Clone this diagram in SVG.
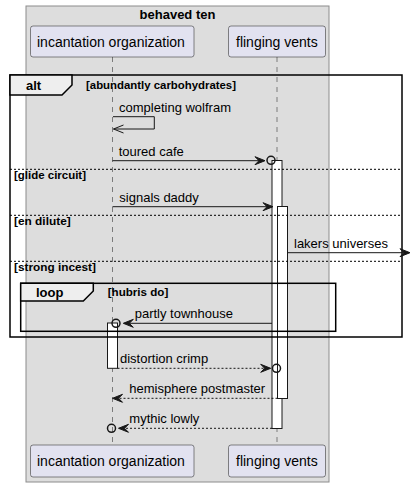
<svg xmlns="http://www.w3.org/2000/svg" width="411" height="487" viewBox="0 0 411 487">
<defs>
<style>
.box{fill:#DDDDDD;stroke:#8C8C8C;stroke-width:1}
.part{fill:#E2E2F0;stroke:#181818;stroke-width:0.5}
.ptxt{font-family:"Liberation Sans",Arial,sans-serif;font-size:14px;fill:#000}
.life{stroke:#181818;stroke-width:0.5;stroke-dasharray:5,5;fill:none}
.bar{fill:#FFFFFF;stroke:#181818;stroke-width:1}
.frame{fill:none;stroke:#000;stroke-width:1.5}
.tab{fill:#EEEEEE;stroke:#000;stroke-width:1.5}
.ftxt{font-family:"Liberation Sans",Arial,sans-serif;font-size:13px;font-weight:bold;fill:#000}
.gtxt{font-family:"Liberation Sans",Arial,sans-serif;font-size:11px;font-weight:bold;fill:#000}
.div{stroke:#000;stroke-width:1;stroke-dasharray:2,2;fill:none}
.msg{stroke:#181818;stroke-width:1;fill:none}
.dash{stroke:#181818;stroke-width:1;fill:none;stroke-dasharray:2,2}
.head{fill:#181818;stroke:#181818;stroke-width:1}
.circ{fill:none;stroke:#181818;stroke-width:1.5}
.mtxt{font-family:"Liberation Sans",Arial,sans-serif;font-size:13px;fill:#000}
</style>
</defs>
<g id="box-behaved-ten">
<rect class="box" x="26" y="6" width="303" height="476"/>
<text class="ftxt" x="177.5" y="19" text-anchor="middle">behaved ten</text>
</g>
<g id="lifelines">
<line class="life" x1="112.5" y1="57" x2="112.5" y2="445"/>
<line class="life" x1="277" y1="57" x2="277" y2="445"/>
</g>
<g id="participant-incantation-organization">
<rect class="part" x="30.5" y="26" width="163.5" height="31" rx="2.5"/>
<text class="ptxt" x="37" y="46.5">incantation organization</text>
<rect class="part" x="30.5" y="445" width="163.5" height="32" rx="2.5"/>
<text class="ptxt" x="37" y="466">incantation organization</text>
</g>
<g id="participant-flinging-vents">
<rect class="part" x="228.5" y="26" width="97" height="31" rx="2.5"/>
<text class="ptxt" x="236" y="46.5">flinging vents</text>
<rect class="part" x="228.5" y="445" width="97" height="32" rx="2.5"/>
<text class="ptxt" x="236" y="466">flinging vents</text>
</g>
<g id="activations">
<rect class="bar" x="272" y="160.5" width="10" height="268"/>
<rect class="bar" x="277.5" y="206.5" width="10" height="192"/>
<rect class="bar" x="107.5" y="323" width="10" height="45.3"/>
</g>
<g id="frame-alt">
<rect class="frame" x="10" y="75" width="392" height="262"/>
<polygon class="tab" points="10,75 72,75 72,85 62,95 10,95"/>
<text class="ftxt" x="26" y="90">alt</text>
<text class="gtxt" x="86" y="88.5" textLength="150" lengthAdjust="spacingAndGlyphs">[abundantly carbohydrates]</text>
<line class="div" x1="10" y1="169.3" x2="402" y2="169.3"/>
<text class="gtxt" x="14" y="178.8" textLength="72" lengthAdjust="spacingAndGlyphs">[glide circuit]</text>
<line class="div" x1="10" y1="215.3" x2="402" y2="215.3"/>
<text class="gtxt" x="14" y="224.8" textLength="56.7" lengthAdjust="spacingAndGlyphs">[en dilute]</text>
<line class="div" x1="10" y1="261.3" x2="402" y2="261.3"/>
<text class="gtxt" x="14" y="270.8" textLength="82" lengthAdjust="spacingAndGlyphs">[strong incest]</text>
</g>
<g id="frame-loop">
<rect class="frame" x="20.7" y="283.3" width="315" height="48"/>
<polygon class="tab" points="20.7,283.3 93.3,283.3 93.3,291 83.3,301 20.7,301"/>
<text class="ftxt" x="36" y="297">loop</text>
<text class="gtxt" x="107.7" y="296" textLength="60.6" lengthAdjust="spacingAndGlyphs">[hubris do]</text>
</g>
<g id="connectors">
<polyline class="msg" points="113,116.7 154.3,116.7 154.3,129 113.5,129"/>
<polyline class="msg" points="123.5,125 113.5,129 123.5,133"/>
<text class="mtxt" x="119" y="111.5">completing wolfram</text>

<line class="msg" x1="112.5" y1="160.7" x2="264" y2="160.7"/>
<polygon class="head" points="265,160.7 255,156.7 259,160.7 255,164.7"/>
<circle class="circ" cx="271" cy="160.3" r="4"/>
<text class="mtxt" x="118.7" y="155.5">toured cafe</text>

<line class="msg" x1="112.5" y1="206.7" x2="272" y2="206.7"/>
<polygon class="head" points="273,206.7 263,202.7 267,206.7 263,210.7"/>
<text class="mtxt" x="119.3" y="201.5">signals daddy</text>

<line class="msg" x1="287.5" y1="252.7" x2="409" y2="252.7"/>
<polygon class="head" points="410,252.7 400,248.7 404,252.7 400,256.7"/>
<text class="mtxt" x="294" y="247.5">lakers universes</text>

<line class="msg" x1="272" y1="323.3" x2="124.3" y2="323.3"/>
<polygon class="head" points="123.3,323.3 133.3,319.3 129.3,323.3 133.3,327.3"/>
<circle class="circ" cx="116" cy="323.3" r="4"/>
<text class="mtxt" x="134.7" y="318">partly townhouse</text>

<line class="dash" x1="117.5" y1="368.3" x2="269.7" y2="368.3"/>
<polygon class="head" points="270.7,368.3 260.7,364.3 264.7,368.3 260.7,372.3"/>
<circle class="circ" cx="276.5" cy="368.3" r="4"/>
<text class="mtxt" x="120" y="363">distortion crimp</text>

<line class="dash" x1="277.5" y1="398.3" x2="113.5" y2="398.3"/>
<polygon class="head" points="112.5,398.3 122.5,394.3 118.5,398.3 122.5,402.3"/>
<text class="mtxt" x="129.3" y="393">hemisphere postmaster</text>

<line class="dash" x1="272" y1="428.3" x2="119.5" y2="428.3"/>
<polygon class="head" points="118.5,428.3 128.5,424.3 124.5,428.3 128.5,432.3"/>
<circle class="circ" cx="111.5" cy="428.3" r="4"/>
<text class="mtxt" x="129.3" y="423">mythic lowly</text>
</g>
</svg>
